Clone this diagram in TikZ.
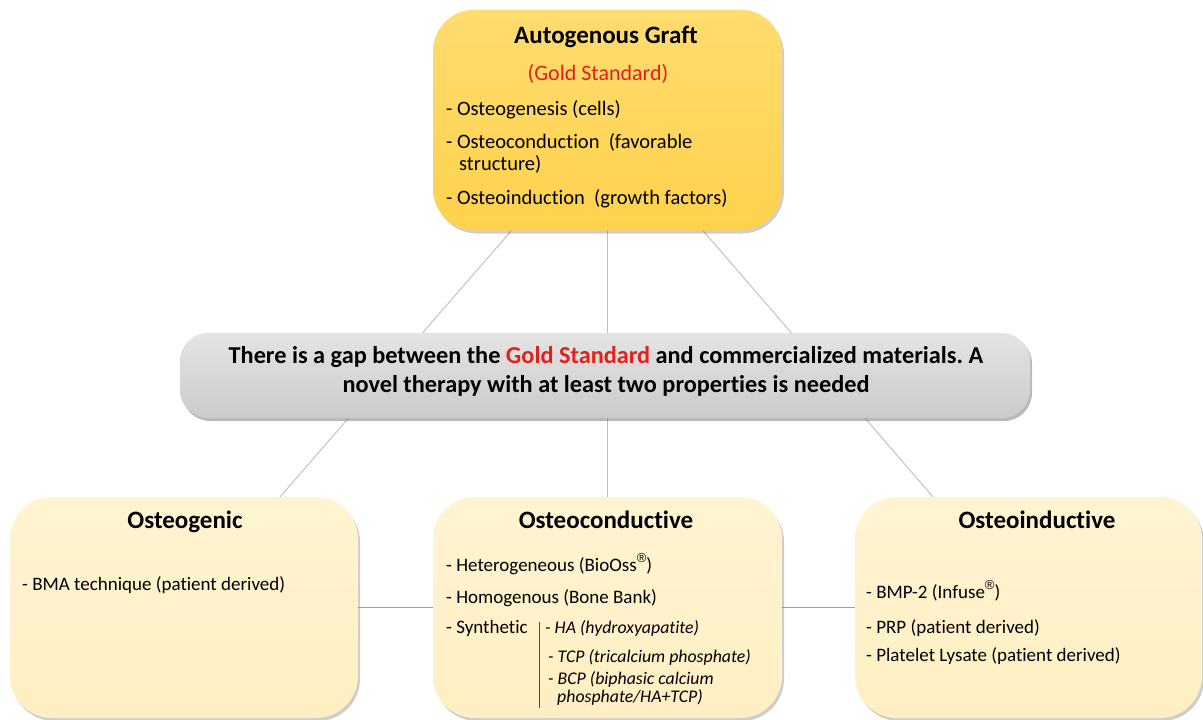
\documentclass[tikz,border=0pt]{standalone}
\usepackage{fontspec}
\setmainfont{Carlito}[Ligatures=NoCommon]
\newfontfamily\regfont{Liberation Sans}
\usetikzlibrary{shadows,backgrounds}
\frenchspacing
\definecolor{goldtop}{HTML}{FFDC70}
\definecolor{goldbot}{HTML}{FFD24C}
\definecolor{creamtop}{HTML}{FFF4D2}
\definecolor{creambot}{HTML}{FFEFC2}
\definecolor{graytop}{HTML}{E4E4E4}
\definecolor{graybot}{HTML}{CBCBCB}
\definecolor{redtxt}{HTML}{E3201B}
\definecolor{connc}{HTML}{BDBDBD}
\definecolor{hconnc}{HTML}{A0A0A0}
\newcommand{\regmark}{\raisebox{0.45em}{\fontsize{13}{13}\regfont ®}}
\tikzset{
  card/.style={rounded corners=42, minimum width=349, minimum height=221, inner sep=0,
    drop shadow={shadow xshift=2pt, shadow yshift=-3pt, opacity=.35, fill=black!55}},
  goldcard/.style={card, top color=goldtop, bottom color=goldbot},
  creamcard/.style={card, top color=creamtop, bottom color=creambot},
  banner/.style={rounded corners=28, minimum width=850, minimum height=85, inner sep=0,
    top color=graytop, bottom color=graybot,
    drop shadow={shadow xshift=2pt, shadow yshift=-3pt, opacity=.45, fill=black!60}},
  txt/.style={anchor=base west, inner sep=0, font=\fontsize{19}{22}\selectfont},
  toptxt/.style={txt, font=\fontsize{20.5}{24}\selectfont},
  itxt/.style={txt, font=\fontsize{17.8}{20}\selectfont\itshape},
  ttl/.style={anchor=base, inner sep=0, font=\fontsize{25}{29}\selectfont\bfseries},
  conn/.style={draw=connc, line width=0.9pt},
  hconn/.style={draw=hconnc, line width=1.4pt},
}
\begin{document}
\begin{tikzpicture}[x=1pt,y=-1pt]
\useasboundingbox (0,0) rectangle (1203,720);
% boxes
\node[goldcard] (top) at (607.5,120) {};
\node[banner] (gap) at (605,375.5) {};
\node[creamcard, minimum width=348] (ogen) at (184,607.5) {};
\node[creamcard] (ocon) at (607.5,607.5) {};
\node[creamcard, minimum width=347] (oind) at (1028.5,607.5) {};
% connectors behind
\begin{scope}[on background layer]
\draw[conn] (top.center) -- (ogen.center);
\draw[conn] (top.center) -- (oind.center);
\draw[conn] (top.center) -- (ocon.center);
\draw[hconn] (ogen.center) -- (ocon.center);
\draw[hconn] (ocon.center) -- (oind.center);
\end{scope}
% top box text
\node[ttl] (t1) at (606,43) {Autogenous Graft};
\node[ttl, font=\fontsize{22}{26}\selectfont, text=redtxt] (t2) at (598,80) {(Gold Standard)};
\node[toptxt] (t3) at (446,115) {- Osteogenesis (cells)};
\node[toptxt] (t4) at (446,148) {- Osteoconduction\ \ (favorable};
\node[toptxt] (t5) at (459,170) {structure)};
\node[toptxt] (t6) at (446,204) {- Osteoinduction\ \ (growth factors)};
% banner text
\node[inner sep=0, align=center, font=\fontsize{24.3}{29}\selectfont\bfseries] (g1) at (606,371)
  {There is a gap between the \textcolor{redtxt}{Gold Standard} and commercialized materials. A\\
   novel therapy with at least two properties is needed};
% osteogenic
\node[ttl] (a1) at (185,528) {Osteogenic};
\node[txt] (a2) at (22,590) {- BMA technique (patient derived)};
% osteoconductive
\node[ttl] (b1) at (606,528) {Osteoconductive};
\node[txt] (b2) at (446,571) {- Heterogeneous (BioOss\regmark)};
\node[txt] (b3) at (446,603) {- Homogenous (Bone Bank)};
\node[txt] (b4) at (446,633) {- Synthetic};
\coordinate (bartop) at (539,622);
\coordinate (barbot) at (539,708);
\draw[draw=black!70, line width=0.8pt] (bartop) -- (barbot);
\node[itxt] (b5) at (545,633) {- HA (hydroxyapatite)};
\node[itxt] (b6) at (548,662) {- TCP (tricalcium phosphate)};
\node[itxt] (b7) at (548,684) {- BCP (biphasic calcium};
\node[itxt] (b8) at (557,702) {phosphate/HA+TCP)};
% osteoinductive
\node[ttl] (c1) at (1037,528) {Osteoinductive};
\node[txt] (c2) at (866,598) {- BMP-2 (Infuse\regmark)};
\node[txt] (c3) at (866,633) {- PRP (patient derived)};
\node[txt] (c4) at (866,661) {- Platelet Lysate (patient derived)};
\end{tikzpicture}
\end{document}
